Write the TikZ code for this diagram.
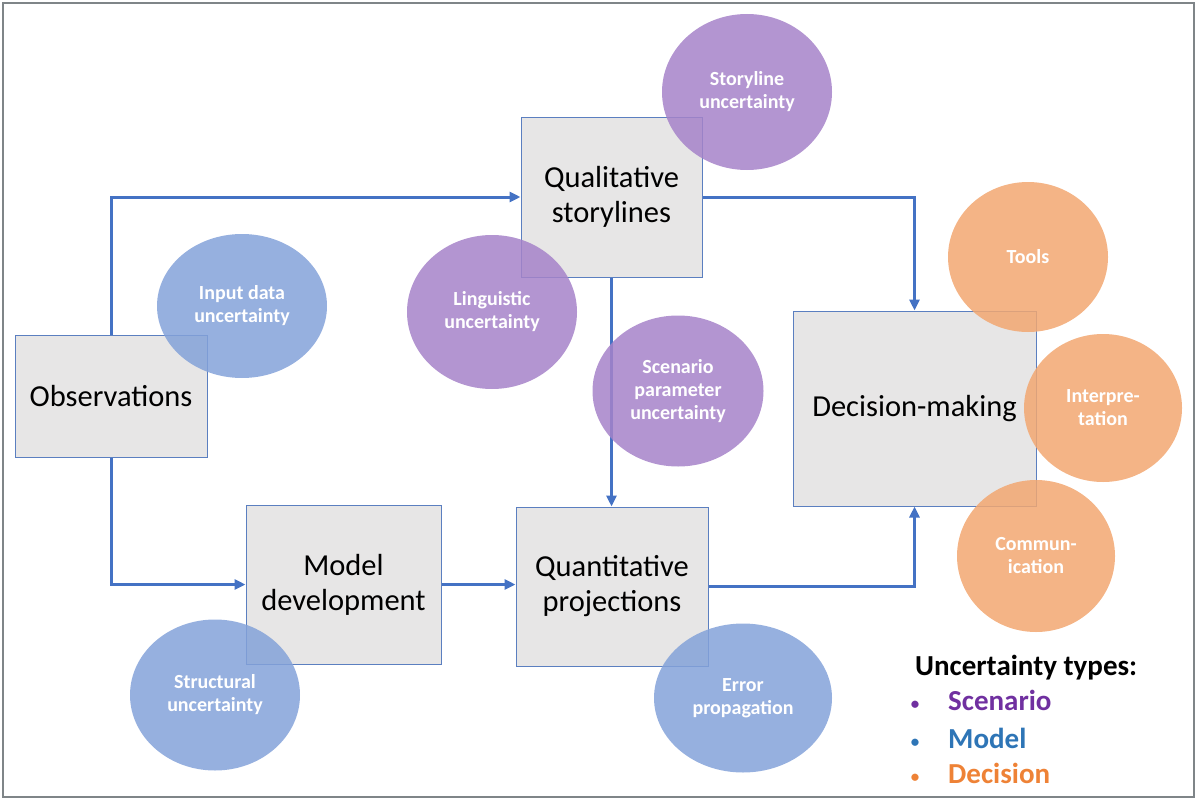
\documentclass[tikz,border=0pt]{standalone}
\usepackage{fontspec}
\setmainfont{Carlito}
\usetikzlibrary{shapes.geometric,arrows.meta}
\definecolor{flowblue}{HTML}{4472C4}
\definecolor{boxfill}{HTML}{E7E6E6}
\definecolor{boxline}{HTML}{5B7FC0}
\definecolor{cpurple}{HTML}{A683C9}
\definecolor{cblue}{HTML}{84A2D9}
\definecolor{corange}{HTML}{F2A771}
\definecolor{lpurple}{HTML}{7030A0}
\definecolor{lblue}{HTML}{2E75B6}
\definecolor{lorange}{HTML}{EE8236}
\definecolor{framegrey}{HTML}{7F8588}
\begin{document}
\begin{tikzpicture}[x=1pt,y=-1pt,
  stagebox/.style={draw=boxline, line width=1pt, fill=boxfill, inner sep=0pt,
    align=center, font=\fontsize{30.5}{35}\selectfont},
  uncirc/.style={ellipse, inner sep=0pt, fill opacity=0.85, text opacity=1,
    text=white, align=center, font=\fontsize{20}{23}\selectfont\bfseries},
  purplec/.style={uncirc, fill=cpurple},
  bluec/.style={uncirc, fill=cblue},
  orangec/.style={uncirc, fill=corange},
  flow/.style={draw=flowblue, line width=3pt, -{Triangle[length=11pt,width=10pt]}},
  legtext/.style={anchor=base west, inner sep=0pt, font=\fontsize{29}{34}\selectfont\bfseries},
  legdot/.style={anchor=base, inner sep=0pt, font=\fontsize{17}{20}\selectfont\bfseries}
]
\useasboundingbox (0,0) rectangle (1196,800);
\draw[framegrey, line width=1.5pt] (3,3) rectangle (1194,797);

% boxes
\node[stagebox, minimum width=192pt, minimum height=122pt] (obs) at (111,396) {Observations};
\node[stagebox, minimum width=181pt, minimum height=160pt] (qual) at (611.5,197) {Qualitative\\storylines};
\node[stagebox, minimum width=195pt, minimum height=159pt] (model) at (343.5,584.5) {Model\\development};
\node[stagebox, minimum width=192pt, minimum height=159pt] (quant) at (612,586.5) {Quantitative\\projections};
\node[stagebox, minimum width=243pt, minimum height=195pt] (dec) at (914.5,408.5) {Decision-making};

% connectors
\draw[flow] (obs.north) |- (qual.west);
\draw[flow] (obs.south) |- (model.west);
\draw[flow] (model.east) -- (model.east -| quant.west);
\draw[flow] (qual.south) -- (qual.south |- quant.north);
\draw[flow] (qual.east) -| (dec.north);
\draw[flow] (quant.east) -| (dec.south);

% uncertainty circles
\node[purplec, minimum width=170pt, minimum height=156pt] (story) at (747,92) {Storyline\\uncertainty};
\node[bluec, minimum width=170pt, minimum height=144pt] (input) at (242,306) {Input data\\uncertainty};
\node[purplec, minimum width=170pt, minimum height=154pt] (ling) at (492,312) {Linguistic\\uncertainty};
\node[purplec, minimum width=171pt, minimum height=151pt] (scen) at (678,391) {Scenario\\parameter\\uncertainty};
\node[orangec, minimum width=160pt, minimum height=150pt] (tools) at (1028,257) {Tools};
\node[orangec, minimum width=158pt, minimum height=148pt] (interp) at (1103,408) {Interpre-\\tation};
\node[orangec, minimum width=158pt, minimum height=152pt] (comm) at (1036,556) {Commun-\\ication};
\node[bluec, minimum width=170pt, minimum height=151pt] (struct) at (215,695) {Structural\\uncertainty};
\node[bluec, minimum width=178pt, minimum height=149pt] (err) at (743,698) {Error\\propagation};

% legend
\node[legtext] (legtitle) at (915,675) {Uncertainty types:};
\node[legdot, text=lpurple] (dot1) at (915,709) {•};
\node[legtext, text=lpurple] (leg1) at (948,710) {Scenario};
\node[legdot, text=lblue] (dot2) at (915,747) {•};
\node[legtext, text=lblue] (leg2) at (948,748) {Model};
\node[legdot, text=lorange] (dot3) at (915,782) {•};
\node[legtext, text=lorange] (leg3) at (948,783) {Decision};
\end{tikzpicture}
\end{document}
